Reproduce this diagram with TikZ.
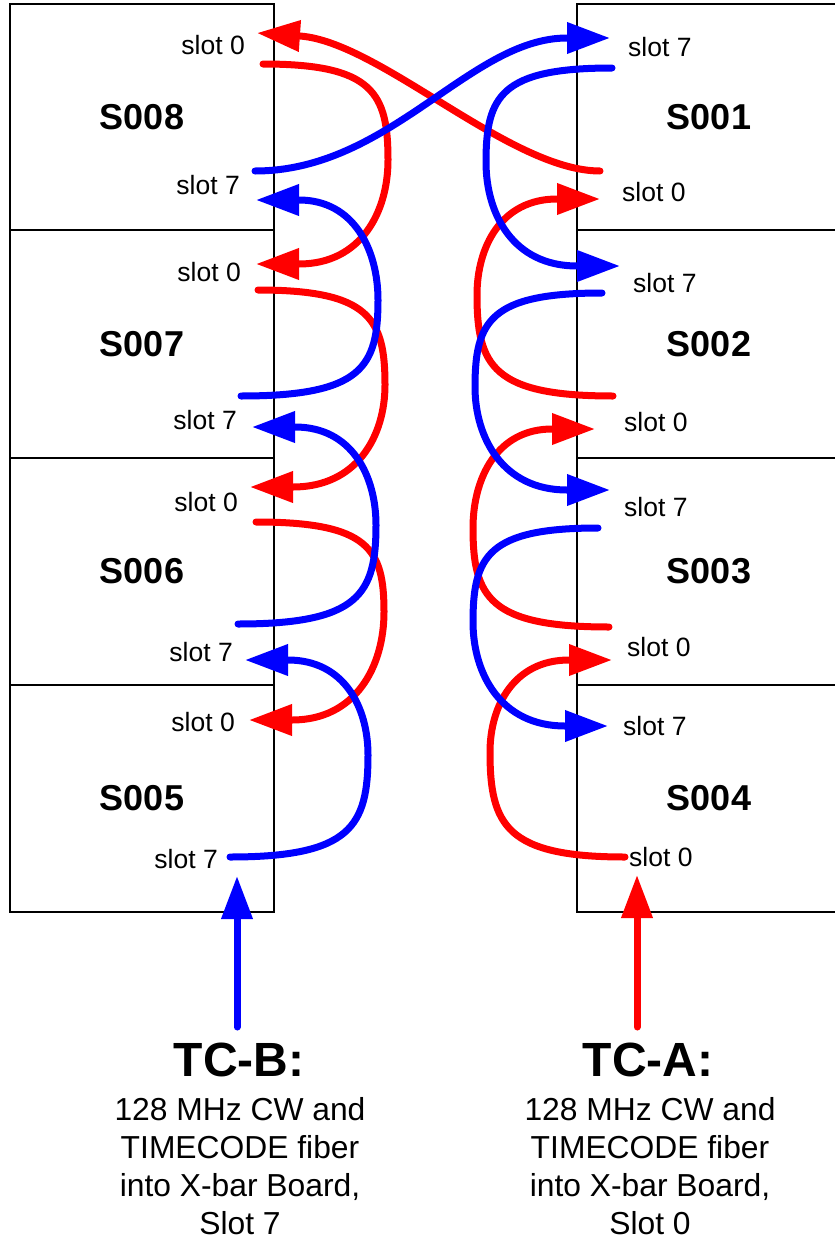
\documentclass[tikz,border=0pt]{standalone}
\usepackage{fontspec}
\setmainfont{Liberation Sans}
\usetikzlibrary{arrows.meta}
\begin{document}
\begin{tikzpicture}[x=1pt,y=-1pt,
  box/.style={draw=black,line width=2.8pt,minimum width=264pt,inner sep=0pt,font=\fontsize{36}{40}\selectfont\bfseries},
  slotlbl/.style={inner sep=0pt,font=\fontsize{26.5}{30}\selectfont},
  fib/.style={line width=7pt,line cap=round},
  redfib/.style={fib,draw=red},
  bluefib/.style={fib,draw=blue},
  arrowhd/.style={-{Triangle[length=43pt,width=30pt]}},
  title/.style={inner sep=0pt,font=\fontsize{48}{54}\selectfont\bfseries},
  body/.style={inner sep=0pt,align=center,anchor=north,font=\fontsize{31.8}{38.2}\selectfont}]
\useasboundingbox (0,0) rectangle (835,1242);

% boxes (left)
\node[box,minimum height=226pt] (S008) at (142,117) {S008};
\node[box,minimum height=228pt] (S007) at (142,344) {S007};
\node[box,minimum height=227pt] (S006) at (142,571.5) {S006};
\node[box,minimum height=227pt] (S005) at (142,798.5) {S005};
% boxes (right)
\node[box,minimum height=226pt] (S001) at (709,117) {S001};
\node[box,minimum height=228pt] (S002) at (709,344) {S002};
\node[box,minimum height=227pt] (S003) at (709,571.5) {S003};
\node[box,minimum height=227pt] (S004) at (709,798.5) {S004};

% slot labels left
\node[slotlbl,anchor=east] (l8a) at (245,45) {slot 0};
\node[slotlbl,anchor=east] (l8b) at (240,185) {slot 7};
\node[slotlbl,anchor=east] (l7a) at (241,272) {slot 0};
\node[slotlbl,anchor=east] (l7b) at (237,420) {slot 7};
\node[slotlbl,anchor=east] (l6a) at (238,502) {slot 0};
\node[slotlbl,anchor=east] (l6b) at (233,652) {slot 7};
\node[slotlbl,anchor=east] (l5a) at (235,722) {slot 0};
\node[slotlbl,anchor=east] (l5b) at (218,859) {slot 7};
% slot labels right
\node[slotlbl,anchor=west] (r1b) at (628,47) {slot 7};
\node[slotlbl,anchor=west] (r1a) at (622,192) {slot 0};
\node[slotlbl,anchor=west] (r2b) at (633,283) {slot 7};
\node[slotlbl,anchor=west] (r2a) at (624,422) {slot 0};
\node[slotlbl,anchor=west] (r3b) at (624,507) {slot 7};
\node[slotlbl,anchor=west] (r3a) at (627,647) {slot 0};
\node[slotlbl,anchor=west] (r4b) at (623,726) {slot 7};
\node[slotlbl,anchor=west] (r4a) at (629,857) {slot 0};

% port coordinates: o = fiber out (start), i = fiber in (arrow tip)
\coordinate (p8ro) at (263,64);   \coordinate (p8ri) at (257,33);
\coordinate (p8bo) at (255,171);  \coordinate (p8bi) at (256,200);
\coordinate (p7ro) at (258,290);  \coordinate (p7ri) at (256,264);
\coordinate (p7bo) at (241,396);  \coordinate (p7bi) at (252,427);
\coordinate (p6ro) at (256,522);  \coordinate (p6ri) at (250,487);
\coordinate (p6bo) at (238,624);  \coordinate (p6bi) at (245,660);
\coordinate (p5ri) at (249,720);  \coordinate (p5bo) at (230,857);
\coordinate (p1bi) at (610,38);   \coordinate (p1bo) at (612,68);
\coordinate (p1ro) at (600,171);  \coordinate (p1ri) at (600,199);
\coordinate (p2bi) at (620,266);  \coordinate (p2bo) at (602,293);
\coordinate (p2ro) at (613,396);  \coordinate (p2ri) at (595,429);
\coordinate (p3bi) at (610,490);  \coordinate (p3bo) at (598,528);
\coordinate (p3ro) at (609,627);  \coordinate (p3ri) at (612,660);
\coordinate (p4bi) at (608,726);  \coordinate (p4ro) at (625,857);
\coordinate (tcbstart) at (237,1027); \coordinate (tcbtip) at (237,876);
\coordinate (tcastart) at (637,1027); \coordinate (tcatip) at (637,875);

% TC-A chain (red)
\draw[redfib,arrowhd] (tcastart) -- (tcatip);
\draw[redfib,arrowhd] (p4ro) .. controls +(-119,0) and +(0,73) .. (490,752)
   .. controls +(0,-46) and +(-55,0) .. (569,660) -- (p3ri);
\draw[redfib,arrowhd] (p3ro) .. controls +(-120,0) and +(0,69) .. (473,528)
   .. controls +(0,-50) and +(-55,0) .. (552,429) -- (p2ri);
\draw[redfib,arrowhd] (p2ro) .. controls +(-120,0) and +(0,71) .. (477,295)
   .. controls +(0,-48) and +(-56,0) .. (557,199) -- (p1ri);
\draw[redfib,arrowhd] (p1ro) .. controls (510,171) and (380,42) .. (300,36) -- (p8ri);
\draw[redfib,arrowhd] (p8ro) .. controls +(110,0) and +(0,-67) .. (388,160)
   .. controls +(0,52) and +(62,0) .. (299,264) -- (p7ri);
\draw[redfib,arrowhd] (p7ro) .. controls +(112,0) and +(0,-66) .. (385,385)
   .. controls +(0,51) and +(64,0) .. (293,487) -- (p6ri);
\draw[redfib,arrowhd] (p6ro) .. controls +(113,0) and +(0,-63) .. (384,612)
   .. controls +(0,54) and +(64,0) .. (292,720) -- (p5ri);

% TC-B chain (blue)
\draw[bluefib,arrowhd] (tcbstart) -- (tcbtip);
\draw[bluefib,arrowhd] (p5bo) .. controls +(121,0) and +(0,71) .. (368,755)
   .. controls +(0,-48) and +(56,0) .. (288,660) -- (p6bi);
\draw[bluefib,arrowhd] (p6bo) .. controls +(121,0) and +(0,69) .. (376,525)
   .. controls +(0,-49) and +(57,0) .. (295,427) -- (p7bi);
\draw[bluefib,arrowhd] (p7bo) .. controls +(121,0) and +(0,67) .. (378,300)
   .. controls +(0,-50) and +(55,0) .. (299,200) -- (p8bi);
\draw[bluefib,arrowhd] (p8bo) .. controls (390,171) and (470,38) .. (567,38) -- (p1bi);
\draw[bluefib,arrowhd] (p1bo) .. controls +(-111,0) and +(0,-66) .. (486,162)
   .. controls +(0,52) and +(-64,0) .. (577,266) -- (p2bi);
\draw[bluefib,arrowhd] (p2bo) .. controls +(-112,0) and +(0,-66) .. (475,387)
   .. controls +(0,51) and +(-64,0) .. (567,490) -- (p3bi);
\draw[bluefib,arrowhd] (p3bo) .. controls +(-110,0) and +(0,-66) .. (473,622)
   .. controls +(0,52) and +(-64,0) .. (565,726) -- (p4bi);

% bottom captions
\node[title] (tcb) at (239,1060) {TC-B:};
\node[body] (tcbtxt) at (240,1097) {128 MHz CW and\\TIMECODE fiber\\into X-bar Board,\\Slot 7};
\node[title] (tca) at (648,1060) {TC-A:};
\node[body] (tcatxt) at (650,1097) {128 MHz CW and\\TIMECODE fiber\\into X-bar Board,\\Slot 0};
\end{tikzpicture}
\end{document}
